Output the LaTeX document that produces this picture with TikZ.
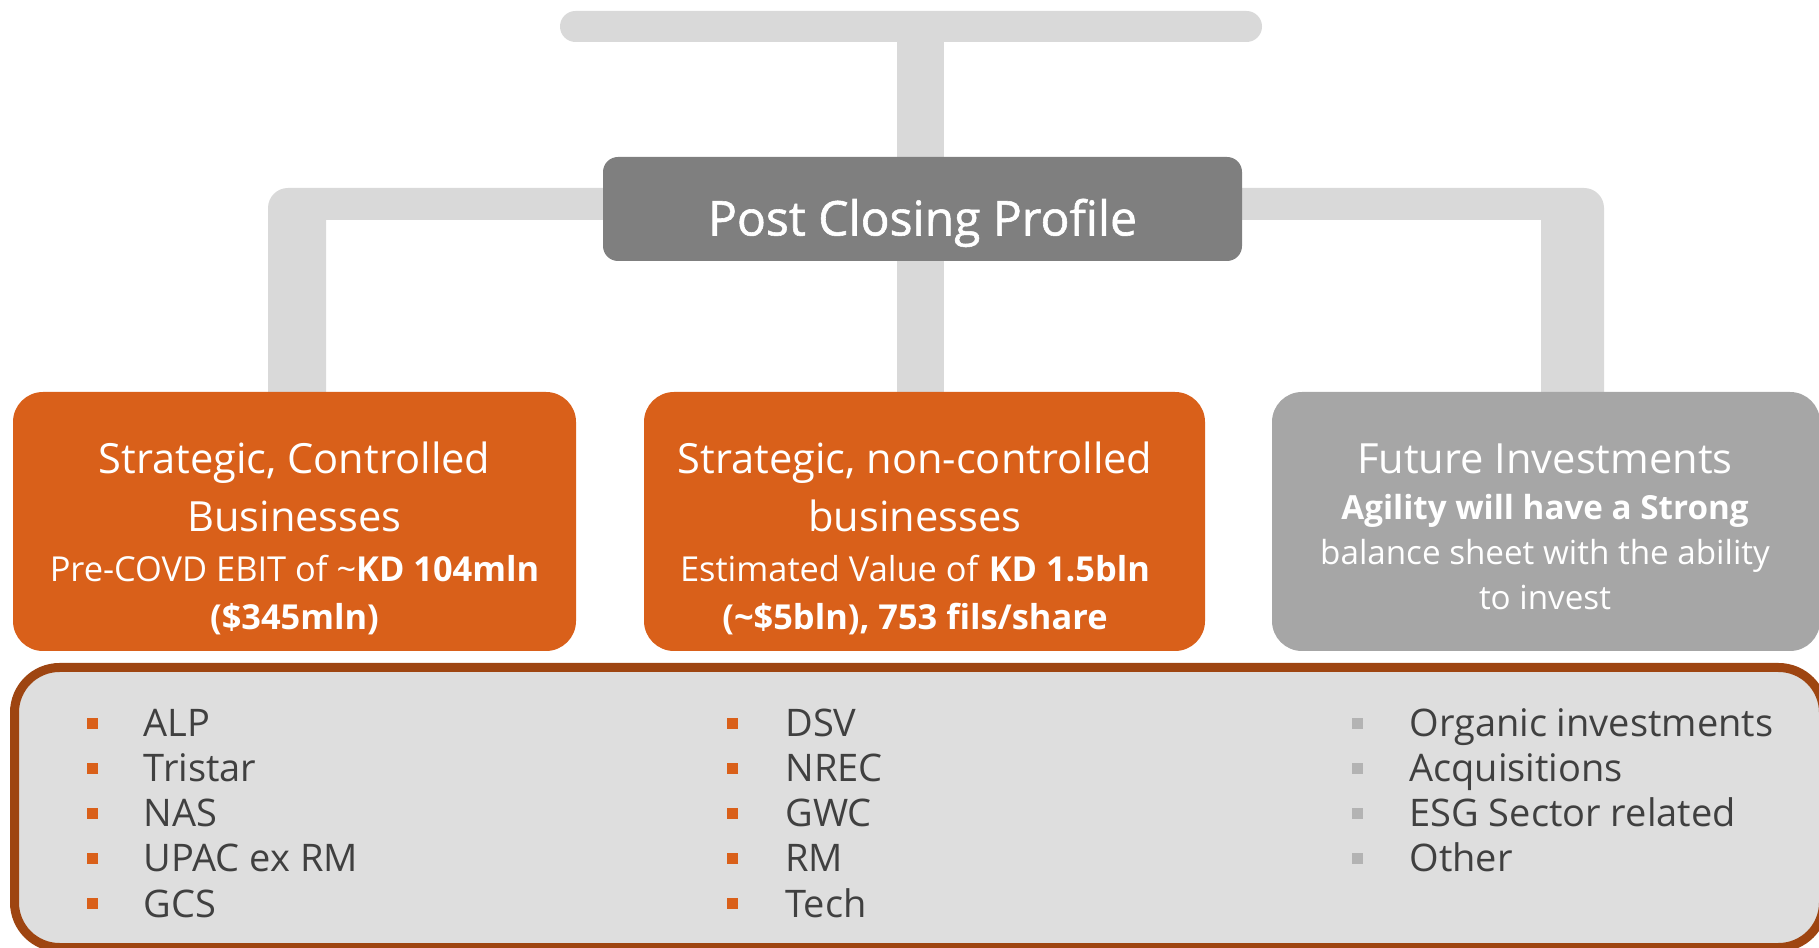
\documentclass[tikz,border=0pt]{standalone}
\usepackage{fontspec}
\setmainfont{Open Sans}
\newfontfamily\headfont{Open Sans}[FakeBold=1.2]
\usepackage{xcolor}
\usepackage{tikz}
\usetikzlibrary{backgrounds}

\definecolor{barGray}{HTML}{D9D9D9}
\definecolor{headGray}{HTML}{7F7F7F}
\definecolor{boxOrange}{HTML}{D9601A}
\definecolor{boxGray}{HTML}{A6A6A6}
\definecolor{panelFill}{HTML}{DEDEDE}
\definecolor{panelRim}{HTML}{9E4511}
\definecolor{itemText}{HTML}{404040}
\definecolor{dotGray}{HTML}{B3B3B3}

\tikzset{
  tile/.style={rounded corners=15pt, inner sep=0pt, minimum height=129.5pt},
  tiletitle/.style={text=white, align=center, inner sep=0pt, anchor=base,
    font=\fontsize{20.8pt}{29pt}\selectfont},
  tilebody/.style={text=white, align=center, inner sep=0pt, anchor=base,
    font=\fontsize{17.2pt}{24pt}\selectfont},
  stem/.style={barGray, line width=23.5pt},
  dot/.style={inner sep=0pt, minimum size=5.5pt},
  item/.style={text=itemText, anchor=base west, inner sep=0pt,
    font=\fontsize{19pt}{22pt}\selectfont}
}

\begin{document}
\begin{tikzpicture}[x=0.5pt, y=0.5pt]
  \useasboundingbox (0,0) rectangle (1819,947);

  % Top bar and profile
  \node[fill=barGray, rounded corners=7.75pt, inner sep=0pt,
        minimum width=351pt, minimum height=15.5pt] (topbar) at (911,920.5) {};
  \node[fill=headGray, rounded corners=7.5pt, inner sep=0pt,
        minimum width=319.5pt, minimum height=52pt, text=white,
        text height=26.5pt, text depth=0pt,
        font=\headfont\fontsize{24pt}{28pt}\selectfont] (profile) at (922.5,738) {Post Closing Profile};

  % Three tiles
  \node[tile, fill=boxOrange, minimum width=281.5pt] (ctlbox) at (294.5,425.5) {};
  \node[tile, fill=boxOrange, minimum width=280.5pt] (noncbox) at (924.5,425.5) {};
  \node[tile, fill=boxGray, minimum width=274pt] (futbox) at (1546,425.5) {};

  % Connectors
  \begin{scope}[on background layer]
    \draw[stem] (profile.north -| 920.5,0) -- (topbar.south -| 920.5,0);
    \draw[stem] (profile.south -| 920.5,0) -- (noncbox.north -| 920.5,0);
    \fill[barGray] (268,555) [rounded corners=10pt] -- (268,759) -- (1604,759)
      [sharp corners] -- (1604,555) -- (1541,555) -- (1541,727) -- (326,727)
      -- (326,555) -- cycle;
  \end{scope}

  % Tile texts (anchor on last line)
  \node[tiletitle] (ctltitle) at (294.5,415) {Strategic, Controlled\\Businesses};
  \node[tilebody] (ctlbody) at (294.5,317)
    {Pre-COVD EBIT of \textasciitilde\textbf{KD 104mln}\\\textbf{(\$345mln)}};
  \node[tiletitle] (nonctitle) at (915,415) {Strategic, non-controlled\\businesses};
  \node[tilebody] (noncbody) at (915,317)
    {Estimated Value of \textbf{KD 1.5bln}\\\textbf{(\textasciitilde\$5bln), 753 fils/share}};
  \node[tiletitle] (futtitle) at (1545,473) {Future Investments};
  \node[tilebody, font=\fontsize{16.6pt}{22.5pt}\selectfont] (futbody) at (1545,337)
    {\textbf{Agility will have a Strong}\\balance sheet with the ability\\to invest};

  % Bottom panel
  \draw[panelRim, line width=4.5pt, fill=panelFill, rounded corners=22.5pt]
    (14.5,-0.5) rectangle (1823.5,279.5);

  % Lists
  \foreach \txt [count=\i] in {ALP, Tristar, NAS, UPAC ex RM, GCS} {
    \node[dot, fill=boxOrange] (ctldot\i) at (92,{223-45*(\i-1)}) {};
    \node[item] (ctlitem\i) at (143.5,{210-45*(\i-1)}) {\txt};
  }
  \foreach \txt [count=\i] in {DSV, NREC, GWC, RM, Tech} {
    \node[dot, fill=boxOrange] (noncdot\i) at (732,{223-45*(\i-1)}) {};
    \node[item] (noncitem\i) at (785,{210-45*(\i-1)}) {\txt};
  }
  \foreach \txt [count=\i] in {Organic investments, Acquisitions, ESG Sector related, Other} {
    \node[dot, fill=dotGray] (futdot\i) at (1357,{223-45*(\i-1)}) {};
    \node[item] (futitem\i) at (1409,{210-45*(\i-1)}) {\txt};
  }
\end{tikzpicture}
\end{document}
